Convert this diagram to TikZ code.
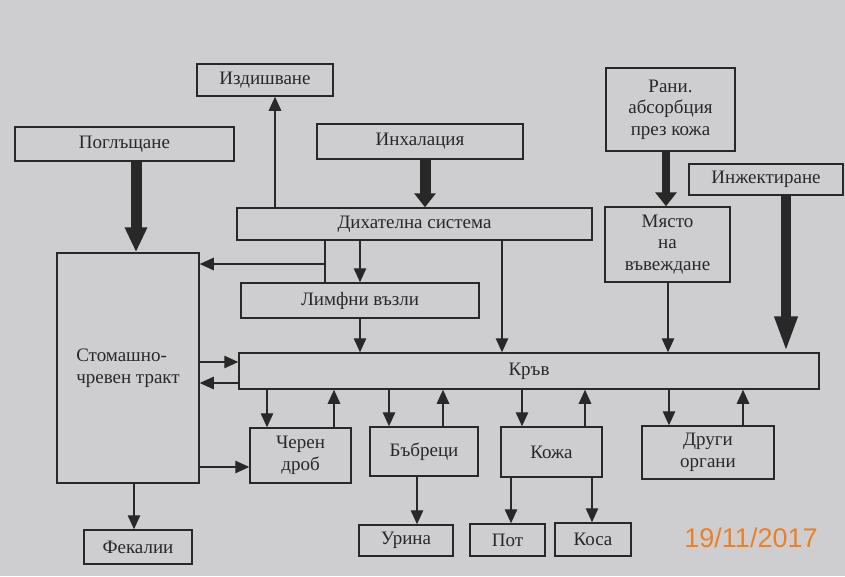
\documentclass[tikz,border=0pt]{standalone}
\usepackage{fontspec}
\setmainfont{Liberation Serif}
\newfontfamily\datefont{Liberation Sans}
\usetikzlibrary{arrows.meta}
\definecolor{paper}{RGB}{206,206,208}
\definecolor{ink}{RGB}{40,40,40}
\definecolor{stamp}{RGB}{236,128,40}

\begin{document}
\begin{tikzpicture}[x=1pt,y=-1pt]
\tikzset{box/.style = {draw=ink, line width=1.5pt, text=ink, inner sep=0pt, align=center, font=\fontsize{19}{21.5}\selectfont}}
\tikzset{flow/.style = {-{Triangle[length=14pt,width=12.5pt]}, draw=ink, line width=1.3pt}}
\tikzset{link/.style = {draw=ink, line width=1.3pt}}
\tikzset{bigflow/.style 2 args = {-{Triangle[length=#1,width=21pt]}, draw=ink, line width=#2}}
\useasboundingbox (0,0) rectangle (845,576);
\fill[paper] (0,0) rectangle (845,576);
% sources
\node[box, minimum width=136pt, minimum height=32pt](exhale) at (265,80) {Издишване};
\node[box, minimum width=219pt, minimum height=34pt](ingest) at (124.5,144) {Поглъщане};
\node[box, minimum width=206pt, minimum height=35pt](inhale) at (420,141.5) {Инхалация};
\node[box, minimum width=129pt, minimum height=83pt](wound) at (670.5,109.5) {Рани.\\абсорбция\\през кожа};
\node[box, minimum width=154pt, minimum height=31pt](inject) at (766,179.5) {Инжектиране};
% middle row
\node[box, minimum width=355pt, minimum height=32pt](resp) at (414.5,224) {Дихателна система};
\node[box, minimum width=125pt, minimum height=75pt](site) at (667.5,244.5) {Място\\на\\въвеждане};
\node[box, minimum width=142pt, minimum height=230pt, align=left](gut) at (128,368) {Стомашно-\\чревен тракт};
\node[box, minimum width=238pt, minimum height=35pt](lymph) at (360,300.5) {Лимфни възли};
\node[box, minimum width=580pt, minimum height=36pt](blood) at (529,371) {Кръв};
% organs
\node[box, minimum width=101pt, minimum height=55pt](liver) at (300.5,455.5) {Черен\\дроб};
\node[box, minimum width=108pt, minimum height=49pt](kidney) at (424,451.5) {Бъбреци};
\node[box, minimum width=101pt, minimum height=50pt](skin) at (551.5,452) {Кожа};
\node[box, minimum width=132pt, minimum height=53pt](other) at (708,452.5) {Други\\органи};
% outputs
\node[box, minimum width=108pt, minimum height=34pt](feces) at (138,547) {Фекалии};
\node[box, minimum width=94pt, minimum height=31pt](urine) at (406,540.5) {Урина};
\node[box, minimum width=75pt, minimum height=32pt](sweat) at (507.5,540) {Пот};
\node[box, minimum width=76pt, minimum height=33pt](hair) at (593,539.5) {Коса};
\node[text=stamp, font=\datefont\fontsize{27}{27}\selectfont](date) at (751,538) {19/11/2017};
% intake
\draw[bigflow={25pt}{11pt}] (ingest.south -| 136,0) -- (gut.north -| 136,0);
\draw[bigflow={14pt}{11pt}] (inhale.south -| 425,0) -- (resp.north -| 425,0);
\draw[bigflow={14pt}{8pt}] (wound.south -| 666,0) -- (site.north -| 666,0);
\draw[bigflow={36pt}{10pt}] (inject.south -| 786,0) -- (blood.north -| 786,0);
% respiratory paths
\coordinate (split) at (325,264);
\draw[flow] (resp.north -| 275,0) -- (exhale.south -| 275,0);
\draw[link] (resp.south -| split) -- (lymph.north -| split);
\draw[flow] (split) -- (split -| gut.east);
\draw[flow] (resp.south -| lymph) -- (lymph.north);
\draw[flow] (lymph.south) -- (blood.north -| lymph);
\draw[flow] (resp.south -| 502,0) -- (blood.north -| 502,0);
\draw[flow] (site.south -| 668,0) -- (blood.north -| 668,0);
% gut and blood
\draw[flow] (gut.east |- 0,362) -- (blood.west |- 0,362);
\draw[flow] (blood.west |- 0,383) -- (gut.east |- 0,383);
\draw[flow] (gut.east |- 0,467) -- (liver.west |- 0,467);
% blood and organs
\draw[flow] (blood.south -| 267,0) -- (liver.north -| 267,0);
\draw[flow] (liver.north -| 334,0) -- (blood.south -| 334,0);
\draw[flow] (blood.south -| 389,0) -- (kidney.north -| 389,0);
\draw[flow] (kidney.north -| 443,0) -- (blood.south -| 443,0);
\draw[flow] (blood.south -| 522,0) -- (skin.north -| 522,0);
\draw[flow] (skin.north -| 585,0) -- (blood.south -| 585,0);
\draw[flow] (blood.south -| 669,0) -- (other.north -| 669,0);
\draw[flow] (other.north -| 743,0) -- (blood.south -| 743,0);
% excretion
\draw[flow] (gut.south -| 134,0) -- (feces.north -| 134,0);
\draw[flow] (kidney.south -| 417,0) -- (urine.north -| 417,0);
\draw[flow] (skin.south -| 511,0) -- (sweat.north -| 511,0);
\draw[flow] (skin.south -| 592,0) -- (hair.north -| 592,0);
\end{tikzpicture}
\end{document}
